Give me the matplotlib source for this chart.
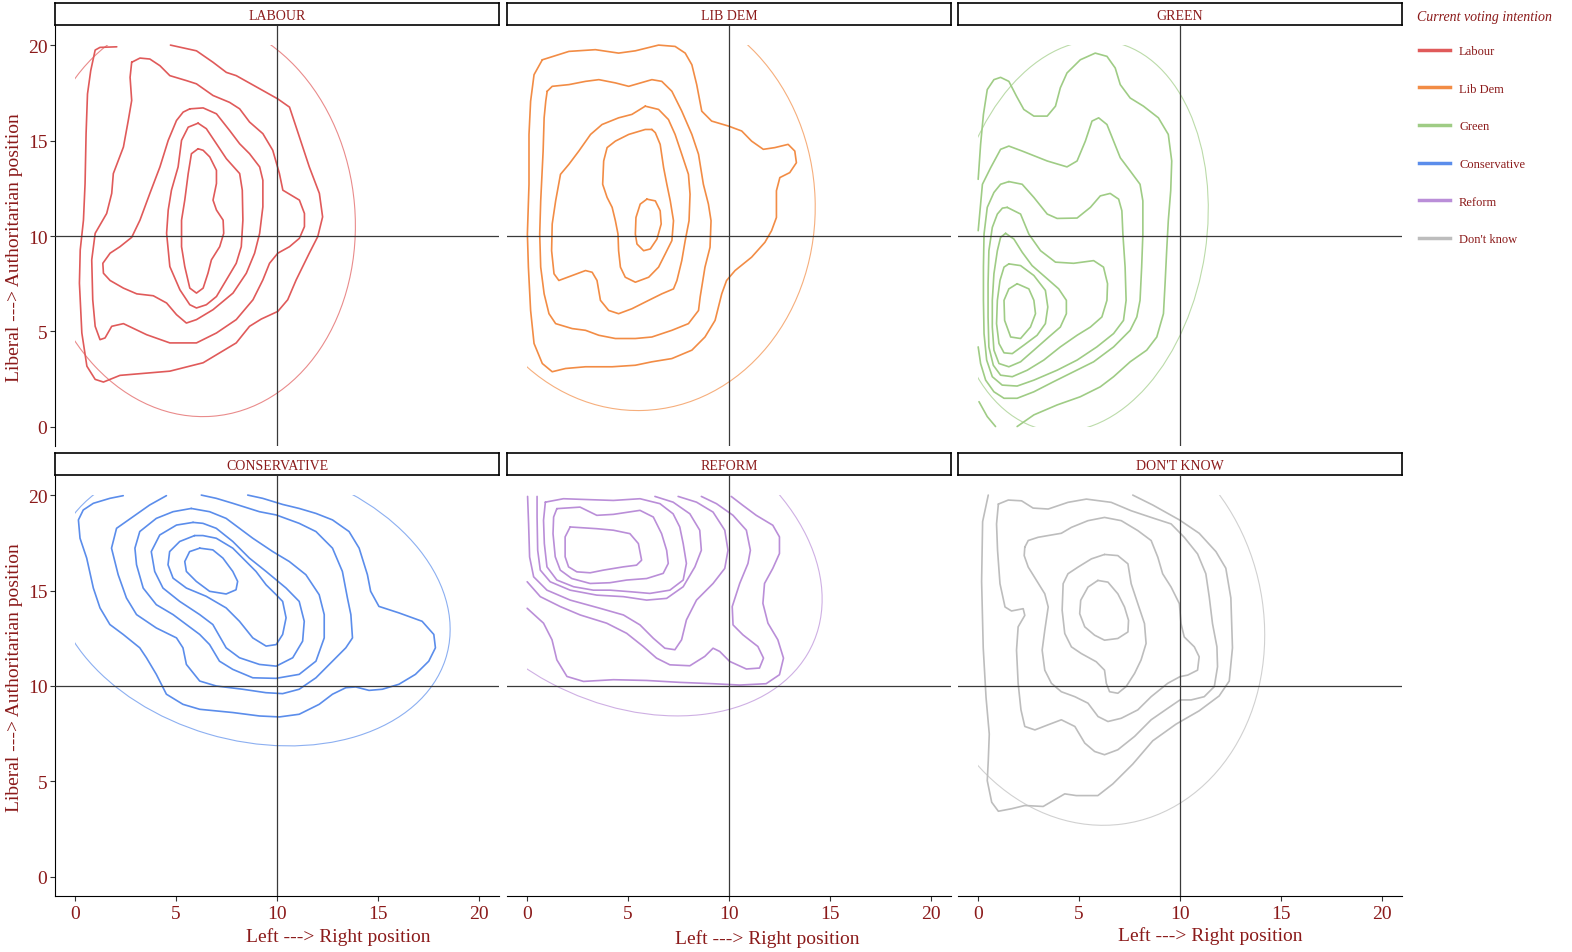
import numpy as np
import matplotlib
matplotlib.use("Agg")
import matplotlib.pyplot as plt
from matplotlib.lines import Line2D
from matplotlib.patches import Ellipse, Rectangle

plt.rcParams["font.family"] = ["Liberation Serif", "DejaVu Serif"]

TEXT_COLOR = "#8B1A1A"
PARTIES = ["Labour", "Lib Dem", "Green", "Conservative", "Reform", "Don't know"]
STRIP_TITLES = ["LABOUR", "LIB DEM", "GREEN", "CONSERVATIVE", "REFORM", "DON'T KNOW"]
PARTY_COLORS = ["#E05A5A", "#F28C45", "#9FCC85", "#5B8DEB", "#BA8ED8", "#BDBDBD"]
TICKS = [0, 5, 10, 15, 20]

# ---- density contours (x = left/right, y = lib/auth) ----
LAB_C1 = [(2.06, 19.91), (1.23, 19.88), (0.99, 19.74), (0.77, 18.66), (0.61, 17.44), (0.54, 15.36),
          (0.49, 12.75), (0.41, 10.83), (0.25, 9.27), (0.21, 7.53), (0.33, 4.92), (0.58, 3.18),
          (0.99, 2.49), (1.4, 2.35), (2.22, 2.7), (4.69, 2.92), (6.34, 3.36), (7.16, 3.88),
          (7.98, 4.4), (8.64, 5.27), (9.22, 5.65), (10.04, 6.05), (10.53, 6.66), (10.95, 7.7),
          (11.6, 9.1), (12.02, 9.97), (12.26, 11.0), (12.1, 12.23), (11.6, 13.62), (10.95, 15.7),
          (10.62, 16.75), (10.04, 17.18), (9.3, 17.62), (7.98, 18.4), (7.49, 18.57), (6.83, 19.1),
          (6.01, 19.7), (4.72, 20.0)]
LAB_C2 = [(2.8, 19.1), (2.72, 18.31), (2.8, 17.1), (2.63, 16.05), (2.39, 14.66), (1.89, 13.27),
          (1.81, 12.23), (1.56, 11.18), (0.99, 10.14), (0.82, 8.75), (0.87, 6.66), (0.99, 5.27),
          (1.23, 4.57), (1.48, 4.66), (1.81, 5.27), (2.39, 5.41), (3.54, 4.83), (4.69, 4.4),
          (6.01, 4.4), (7.0, 4.92), (7.98, 5.62), (8.81, 6.66), (9.3, 7.7), (9.63, 8.57),
          (10.04, 9.1), (10.62, 9.44), (11.11, 9.88), (11.36, 10.49), (11.36, 11.18), (11.11, 11.88),
          (10.29, 12.4), (10.12, 13.27), (9.79, 14.49), (9.3, 15.36), (8.64, 15.97), (8.15, 16.66),
          (7.65, 17.0), (6.83, 17.36), (6.01, 17.97), (5.51, 18.14), (4.69, 18.4), (4.2, 18.92),
          (3.7, 19.27), (3.21, 19.32)]
LAB_C3 = [(5.68, 16.66), (6.34, 16.71), (7.0, 16.4), (7.65, 15.53), (8.15, 14.83), (8.64, 14.31),
          (9.14, 13.62), (9.3, 12.92), (9.3, 11.53), (9.14, 10.14), (8.89, 9.1), (8.48, 8.05),
          (7.82, 7.01), (6.83, 6.14), (6.01, 5.62), (5.51, 5.44), (5.02, 5.88), (4.53, 6.49),
          (3.87, 6.87), (3.05, 6.97), (2.39, 7.27), (1.73, 7.67), (1.4, 8.05), (1.37, 8.57),
          (1.73, 9.1), (2.22, 9.44), (2.8, 9.93), (3.21, 10.83), (3.7, 12.23), (4.2, 13.62),
          (4.61, 15.01), (5.02, 16.05), (5.35, 16.49)]
LAB_C4 = [(6.09, 15.91), (6.5, 15.62), (7.0, 14.83), (7.49, 14.05), (8.15, 13.27), (8.28, 12.4),
          (8.31, 10.83), (8.23, 9.44), (7.98, 8.57), (7.49, 7.7), (7.0, 6.83), (6.5, 6.4),
          (6.01, 6.23), (5.68, 6.4), (5.19, 7.18), (4.69, 8.4), (4.53, 10.14), (4.61, 11.36),
          (4.77, 12.4), (5.1, 13.62), (5.27, 15.01), (5.6, 15.7)]
LAB_C5 = [(6.09, 14.57), (6.34, 14.49), (6.67, 14.14), (7.0, 13.44), (7.0, 12.75), (6.83, 11.88),
          (7.0, 11.36), (7.33, 10.83), (7.36, 10.14), (7.16, 9.44), (6.75, 8.75), (6.58, 8.05),
          (6.34, 7.27), (6.01, 7.01), (5.68, 7.27), (5.43, 8.4), (5.27, 9.44), (5.27, 10.83),
          (5.43, 11.88), (5.6, 13.27), (5.76, 14.31)]

LD_C1 = [(0.75, 19.23), (2.07, 19.67), (3.38, 19.76), (4.53, 19.58), (5.36, 19.7), (6.51, 20.0),
         (7.33, 19.93), (7.83, 19.58), (8.16, 18.97), (8.4, 17.93), (8.65, 16.54), (9.14, 16.02),
         (9.97, 15.76), (10.63, 15.5), (11.12, 14.97), (11.7, 14.54), (12.27, 14.63), (12.93, 14.8),
         (13.26, 14.45), (13.34, 13.84), (13.01, 13.32), (12.52, 13.06), (12.35, 12.37), (12.35, 10.97),
         (12.11, 10.28), (11.78, 9.67), (11.12, 8.89), (10.3, 8.19), (9.88, 7.67), (9.64, 6.97),
         (9.31, 5.58), (8.81, 4.71), (8.16, 4.02), (7.17, 3.58), (6.18, 3.41), (5.36, 3.23),
         (4.21, 3.15), (2.89, 3.15), (1.9, 3.06), (1.24, 2.89), (0.75, 3.32), (0.34, 4.37),
         (0.17, 6.1), (0.06, 8.37), (0.01, 10.1), (0.09, 12.71), (0.09, 15.32), (0.17, 17.06),
         (0.34, 18.45)]
LD_C2 = [(0.99, 17.58), (1.24, 17.84), (2.07, 17.93), (2.89, 18.1), (3.55, 18.19), (4.37, 18.02),
         (5.03, 17.84), (6.18, 18.19), (6.67, 18.1), (7.17, 17.58), (7.66, 16.54), (8.16, 15.32),
         (8.49, 14.28), (8.73, 12.71), (8.98, 11.67), (9.11, 10.8), (9.06, 9.41), (8.81, 8.37),
         (8.57, 6.8), (8.49, 6.1), (7.99, 5.41), (7.17, 5.06), (6.18, 4.71), (5.36, 4.63),
         (4.37, 4.63), (3.55, 4.8), (2.89, 5.06), (2.23, 5.15), (1.41, 5.41), (1.08, 5.93),
         (0.84, 6.97), (0.67, 8.37), (0.62, 10.1), (0.67, 11.84), (0.79, 14.45), (0.84, 16.19),
         (0.92, 17.06)]
LD_C3 = [(5.85, 16.8), (6.51, 16.63), (7.0, 16.1), (7.33, 15.32), (7.66, 14.28), (7.99, 13.23),
         (8.07, 12.19), (8.02, 10.8), (7.83, 9.76), (7.66, 8.71), (7.42, 7.67), (7.25, 7.23),
         (6.67, 6.97), (6.02, 6.63), (5.19, 6.19), (4.53, 5.93), (4.04, 6.1), (3.63, 6.63),
         (3.46, 7.67), (3.22, 8.1), (2.89, 8.19), (2.23, 7.93), (1.57, 7.67), (1.33, 8.02),
         (1.21, 9.23), (1.24, 10.63), (1.41, 11.84), (1.65, 13.23), (2.07, 13.76), (2.56, 14.45),
         (3.14, 15.32), (3.71, 15.84), (4.53, 16.19), (5.19, 16.37)]
LD_C4 = [(6.18, 15.58), (5.85, 15.58), (5.03, 15.32), (4.37, 14.97), (3.96, 14.63), (3.79, 13.93),
         (3.74, 12.71), (3.96, 12.02), (4.21, 11.5), (4.37, 10.8), (4.5, 10.1), (4.53, 9.23),
         (4.62, 8.37), (4.86, 7.84), (5.36, 7.58), (6.02, 7.84), (6.51, 8.37), (6.84, 9.06),
         (7.17, 9.76), (7.25, 10.8), (7.09, 11.84), (6.92, 12.71), (6.76, 13.58), (6.59, 14.8),
         (6.35, 15.41)]
LD_C5 = [(5.93, 11.93), (5.6, 11.67), (5.39, 10.97), (5.36, 10.1), (5.44, 9.58), (5.77, 9.23),
         (6.1, 9.32), (6.43, 9.84), (6.64, 10.63), (6.59, 11.32), (6.35, 11.84)]

GR_C1 = [(0.0, 12.97), (0.12, 14.8), (0.26, 16.37), (0.45, 17.67), (0.78, 18.19), (1.11, 18.31),
         (1.52, 18.1), (1.9, 17.32), (2.26, 16.63), (2.76, 16.28), (3.42, 16.28), (3.83, 16.8),
         (4.07, 17.76), (4.4, 18.54), (5.06, 19.23), (5.8, 19.58), (6.38, 19.41), (6.79, 18.8),
         (7.04, 17.93), (7.53, 17.23), (8.19, 16.8), (8.93, 16.19), (9.42, 15.32), (9.59, 13.93),
         (9.54, 12.37), (9.42, 10.8), (9.34, 9.23), (9.26, 7.5), (9.18, 5.93), (8.85, 4.71),
         (8.35, 4.02), (7.53, 3.41), (6.71, 2.63), (6.05, 2.1), (5.06, 1.58), (3.91, 1.15),
         (2.76, 0.63), (1.93, 0.02)]
GR_C1_CORNER = [(0.04, 1.32), (0.45, 0.54), (0.86, 0.02)]
GR_C2 = [(0.0, 10.28), (0.21, 12.71), (0.62, 13.58), (1.11, 14.54), (1.52, 14.71), (2.18, 14.45),
         (3.42, 13.93), (4.4, 13.62), (4.9, 13.93), (5.31, 14.97), (5.64, 16.02), (5.97, 16.19),
         (6.38, 15.84), (6.71, 14.97), (7.04, 14.1), (7.53, 13.41), (8.02, 12.71), (8.16, 11.84),
         (8.16, 10.1), (8.1, 8.37), (8.02, 6.63), (7.86, 5.76), (7.53, 5.06), (6.71, 4.19),
         (5.72, 3.41), (4.73, 2.89), (3.74, 2.37), (2.76, 1.84), (1.93, 1.5), (1.28, 1.5),
         (0.78, 1.84), (0.37, 2.45), (0.12, 3.32), (0.0, 4.19)]
GR_C3 = [(1.52, 12.85), (2.18, 12.71), (2.76, 12.02), (3.42, 11.15), (3.91, 10.92), (4.9, 10.94),
         (5.56, 11.5), (6.05, 12.1), (6.54, 12.23), (6.96, 11.93), (7.12, 11.32), (7.17, 10.1),
         (7.28, 8.37), (7.33, 6.63), (7.2, 5.58), (6.71, 4.89), (5.88, 4.19), (4.9, 3.5),
         (3.91, 2.97), (2.76, 2.45), (1.93, 2.14), (1.19, 2.19), (0.7, 2.63), (0.42, 3.5),
         (0.29, 4.89), (0.26, 6.63), (0.26, 8.37), (0.29, 10.1), (0.45, 11.5), (0.78, 12.28),
         (1.11, 12.71)]
GR_C4 = [(1.44, 11.5), (2.1, 11.15), (2.51, 10.1), (3.09, 9.23), (3.83, 8.63), (4.73, 8.57),
         (5.72, 8.71), (6.21, 8.37), (6.41, 7.5), (6.38, 6.63), (6.13, 5.76), (5.56, 5.23),
         (4.9, 4.8), (4.07, 4.19), (3.25, 3.5), (2.43, 2.97), (1.69, 2.63), (1.11, 2.71),
         (0.75, 3.23), (0.53, 4.19), (0.49, 5.76), (0.49, 7.5), (0.53, 9.23), (0.7, 10.45),
         (0.95, 11.15), (1.2, 11.46)]
GR_C5 = [(1.36, 10.14), (1.77, 9.84), (2.18, 9.15), (2.67, 8.45), (3.42, 7.76), (3.99, 7.23),
         (4.37, 6.63), (4.37, 5.93), (4.07, 5.23), (3.5, 4.71), (2.76, 4.02), (2.1, 3.41),
         (1.52, 3.15), (1.03, 3.32), (0.78, 4.02), (0.7, 5.23), (0.7, 6.63), (0.78, 8.02),
         (0.95, 9.23), (1.11, 9.93)]
GR_C6 = [(1.52, 8.54), (2.1, 8.45), (2.76, 7.93), (3.33, 7.15), (3.45, 6.28), (3.33, 5.41),
         (2.92, 4.8), (2.26, 4.28), (1.69, 3.84), (1.28, 3.88), (1.03, 4.37), (0.91, 5.41),
         (0.95, 6.63), (1.08, 7.67), (1.28, 8.37)]
GR_C7 = [(1.93, 7.5), (2.51, 7.23), (2.76, 6.63), (2.84, 5.93), (2.59, 5.23), (2.1, 4.63),
         (1.61, 4.71), (1.31, 5.58), (1.28, 6.63), (1.52, 7.23)]

CON_C1 = [(2.38, 19.97), (1.72, 19.83), (0.9, 19.57), (0.4, 19.22), (0.16, 18.7), (0.24, 17.74),
          (0.57, 16.7), (0.9, 15.13), (1.23, 14.09), (1.72, 13.22), (2.38, 12.7), (3.2, 12.0),
          (3.53, 11.48), (4.02, 10.61), (4.52, 9.57), (5.34, 9.04), (6.17, 8.78), (7.81, 8.61),
          (9.13, 8.43), (10.12, 8.38), (11.1, 8.52), (12.09, 9.04), (12.75, 9.57), (13.41, 9.91),
          (13.9, 9.95), (14.56, 9.77), (15.22, 9.83), (16.04, 10.09), (16.86, 10.61), (17.52, 11.3),
          (17.85, 12.0), (17.77, 12.7), (17.19, 13.39), (16.04, 13.83), (15.05, 14.17), (14.64, 14.96),
          (14.48, 15.83), (14.07, 17.22), (13.57, 18.09), (12.75, 18.7), (11.93, 19.04), (11.1, 19.3),
          (10.28, 19.51), (9.29, 19.83), (8.55, 20.0)]
CON_C2 = [(4.52, 19.97), (3.69, 19.48), (2.87, 18.87), (2.05, 18.26), (1.8, 17.22), (2.13, 15.83),
          (2.54, 14.61), (3.04, 13.74), (4.02, 13.04), (5.02, 12.52), (5.34, 12.0), (5.51, 11.13),
          (6.17, 10.26), (6.99, 10.0), (8.3, 9.83), (9.45, 9.65), (10.28, 9.6), (11.1, 9.83),
          (11.93, 10.43), (12.75, 11.3), (13.41, 12.0), (13.74, 12.52), (13.66, 13.74), (13.49, 14.61),
          (13.24, 16.0), (12.75, 17.22), (11.93, 18.09), (11.1, 18.52), (9.96, 18.96), (9.13, 19.13),
          (7.81, 19.57), (6.99, 19.83), (6.25, 20.0)]
CON_C3 = [(5.75, 19.3), (6.66, 19.13), (7.48, 18.78), (8.14, 18.26), (8.8, 17.74), (9.79, 17.04),
          (10.61, 16.52), (11.43, 15.83), (12.09, 14.78), (12.34, 13.74), (12.34, 12.52), (11.93, 11.3),
          (11.1, 10.61), (9.95, 10.4), (8.8, 10.43), (7.81, 10.87), (7.15, 11.3), (6.66, 12.17),
          (6.17, 12.7), (5.51, 13.22), (4.85, 13.74), (4.02, 14.26), (3.37, 15.13), (3.04, 16.35),
          (2.96, 17.22), (3.2, 18.09), (4.02, 18.78), (4.85, 19.13)]
CON_C4 = [(5.84, 18.57), (6.33, 18.52), (6.99, 18.26), (7.81, 17.57), (8.63, 16.7), (9.46, 16.0),
          (10.45, 15.13), (11.1, 14.43), (11.35, 13.39), (11.27, 12.35), (10.78, 11.48), (9.96, 11.04),
          (9.13, 11.13), (8.14, 11.48), (7.48, 12.0), (6.82, 13.22), (6.17, 13.74), (5.18, 14.43),
          (4.35, 15.13), (3.94, 16.0), (3.77, 17.04), (4.19, 17.91), (5.02, 18.43)]
CON_C5 = [(5.92, 17.88), (6.33, 17.88), (6.99, 17.74), (7.81, 17.22), (8.47, 16.52), (8.96, 16.0),
          (9.46, 15.3), (9.96, 14.78), (10.28, 14.43), (10.45, 13.57), (10.28, 12.7), (9.96, 12.17),
          (9.46, 12.09), (8.8, 12.52), (8.14, 13.39), (7.48, 14.09), (6.49, 14.7), (5.51, 15.13),
          (4.85, 15.65), (4.6, 16.35), (4.68, 17.04), (5.18, 17.57)]
CON_C6 = [(6.17, 17.22), (6.82, 17.13), (7.32, 16.7), (7.81, 16.0), (8.05, 15.48), (7.97, 15.04),
          (7.48, 14.82), (6.66, 14.96), (6.0, 15.48), (5.51, 16.0), (5.43, 16.52), (5.67, 17.04)]

REF_C1 = [(0.0, 14.07), (0.81, 13.29), (1.23, 12.42), (1.47, 11.37), (1.97, 10.5), (2.79, 10.24),
          (4.27, 10.33), (5.92, 10.29), (7.56, 10.19), (9.21, 10.12), (10.53, 10.05), (11.84, 10.12),
          (12.5, 10.59), (12.7, 11.46), (12.42, 12.42), (11.93, 13.29), (11.68, 14.33), (11.76, 15.37),
          (12.17, 16.16), (12.5, 16.94), (12.5, 17.81), (12.17, 18.42), (11.35, 18.94), (10.69, 19.46),
          (10.11, 19.93)]
REF_C2 = [(0.0, 15.46), (0.65, 14.68), (1.64, 14.16), (2.63, 13.72), (3.94, 13.29), (4.93, 12.76),
          (5.75, 12.07), (6.41, 11.46), (7.07, 11.11), (8.06, 11.06), (8.8, 11.55), (9.21, 11.98),
          (9.54, 11.81), (10.03, 11.29), (10.86, 10.89), (11.51, 10.94), (11.71, 11.46), (11.43, 12.07),
          (10.69, 12.68), (10.2, 13.2), (10.16, 14.16), (10.53, 15.37), (10.94, 16.42), (11.06, 17.11),
          (10.86, 18.16), (10.2, 18.94), (9.38, 19.55), (8.63, 19.93)]
REF_C3 = [(0.02, 19.93), (0.07, 18.5), (0.12, 16.76), (0.32, 15.72), (0.98, 15.02), (2.13, 14.5),
          (3.61, 14.07), (4.77, 13.72), (5.59, 13.2), (6.25, 12.5), (6.82, 11.98), (7.32, 11.9),
          (7.65, 12.42), (7.89, 13.46), (8.39, 14.5), (9.21, 15.37), (9.79, 16.16), (9.95, 17.11),
          (9.79, 18.16), (9.21, 19.11), (8.39, 19.63), (7.48, 19.93)]
REF_C4 = [(0.49, 19.93), (0.49, 18.85), (0.52, 17.11), (0.65, 16.07), (1.14, 15.46), (2.13, 15.02),
          (3.45, 14.76), (4.77, 14.68), (5.92, 14.5), (6.91, 14.59), (7.73, 15.2), (8.31, 16.24),
          (8.63, 17.11), (8.55, 18.16), (8.06, 19.02), (7.23, 19.63), (6.33, 19.93)]
REF_C5 = [(0.9, 19.63), (1.8, 19.81), (3.12, 19.76), (4.27, 19.72), (5.59, 19.81), (6.58, 19.55),
          (7.23, 19.02), (7.56, 18.33), (7.73, 17.46), (7.89, 16.42), (7.73, 15.55), (7.07, 15.02),
          (6.08, 14.85), (5.09, 14.94), (4.11, 15.02), (3.28, 15.02), (2.3, 15.2), (1.47, 15.55),
          (0.98, 16.24), (0.85, 17.46), (0.81, 18.68)]
REF_C6 = [(1.47, 19.29), (2.62, 19.37), (3.45, 18.94), (4.27, 18.99), (5.59, 19.2), (6.25, 18.85),
          (6.66, 17.98), (6.91, 17.11), (6.99, 16.42), (6.74, 15.9), (5.92, 15.63), (4.93, 15.55),
          (4.1, 15.41), (3.12, 15.37), (2.21, 15.63), (1.64, 16.07), (1.39, 16.77), (1.28, 17.98),
          (1.31, 18.85)]
REF_C7 = [(2.13, 18.33), (3.45, 18.24), (4.27, 18.16), (5.09, 17.98), (5.51, 17.46), (5.67, 16.59),
          (5.42, 16.33), (4.76, 16.24), (3.78, 16.07), (3.12, 15.93), (2.46, 15.98), (2.05, 16.24),
          (1.88, 16.77), (1.88, 17.81)]

DK_C1 = [(0.5, 20.0), (0.22, 18.61), (0.17, 15.48), (0.25, 12.0), (0.39, 9.39), (0.55, 7.48),
         (0.5, 6.09), (0.45, 5.04), (0.67, 3.91), (1.0, 3.44), (1.65, 3.57), (2.31, 3.74),
         (3.22, 3.69), (4.29, 4.35), (4.86, 4.26), (5.93, 4.26), (6.67, 4.87), (7.66, 5.91),
         (8.65, 7.13), (9.8, 8.0), (10.95, 8.7), (11.94, 9.48), (12.44, 10.26), (12.6, 12.0),
         (12.52, 14.61), (12.27, 16.17), (11.78, 17.04), (10.95, 18.0), (9.97, 18.7), (8.65, 19.48),
         (7.66, 20.0)]
DK_C2 = [(1.0, 19.53), (1.49, 19.74), (2.15, 19.7), (2.72, 19.32), (3.47, 19.27), (4.45, 19.62),
         (5.36, 19.79), (6.59, 19.62), (7.58, 19.18), (8.57, 18.83), (9.56, 18.49), (10.21, 17.79),
         (10.87, 16.92), (11.28, 15.88), (11.45, 14.66), (11.61, 13.27), (11.83, 12.05), (11.86, 11.01),
         (11.7, 9.97), (11.2, 9.44), (10.55, 9.27), (10.0, 9.27), (9.39, 8.83), (8.57, 8.23),
         (7.75, 7.36), (6.92, 6.66), (6.26, 6.4), (5.77, 6.57), (5.28, 7.01), (4.79, 7.88),
         (4.12, 8.23), (3.47, 7.97), (2.81, 7.7), (2.31, 7.88), (2.12, 8.75), (1.98, 10.14),
         (1.9, 11.88), (1.98, 13.1), (2.31, 13.7), (2.23, 14.05), (1.65, 13.93), (1.33, 14.14),
         (1.08, 15.36), (0.96, 17.1), (0.91, 18.49)]
DK_C3 = [(2.31, 17.27), (2.48, 17.62), (2.97, 17.79), (4.12, 18.0), (4.62, 18.31), (5.44, 18.66),
         (6.26, 18.83), (7.09, 18.66), (7.91, 18.14), (8.57, 17.62), (8.9, 16.75), (9.14, 15.88),
         (9.56, 15.18), (9.97, 14.31), (10.05, 13.27), (10.21, 12.57), (10.71, 12.05), (10.95, 11.53),
         (10.87, 10.83), (10.38, 10.57), (10.0, 10.49), (9.39, 10.14), (8.57, 9.44), (7.91, 8.75),
         (7.09, 8.31), (6.43, 8.14), (5.94, 8.4), (5.44, 9.1), (4.79, 9.44), (4.12, 9.7),
         (3.63, 10.14), (3.3, 10.83), (3.17, 11.88), (3.3, 12.92), (3.47, 14.14), (3.3, 14.83),
         (2.89, 15.53), (2.48, 16.23), (2.28, 16.83)]
DK_C4 = [(6.26, 16.89), (6.92, 16.83), (7.42, 16.4), (7.58, 15.36), (7.91, 14.31), (8.24, 13.27),
         (8.32, 12.23), (8.07, 11.36), (7.75, 10.66), (7.33, 9.97), (6.92, 9.62), (6.51, 9.7),
         (6.35, 10.14), (6.26, 10.83), (5.85, 11.27), (5.11, 11.7), (4.62, 12.05), (4.29, 12.75),
         (4.16, 13.97), (4.21, 15.36), (4.45, 15.88), (4.95, 16.23), (5.61, 16.66)]
DK_C5 = [(5.93, 15.53), (6.43, 15.44), (6.92, 14.83), (7.25, 14.14), (7.45, 13.44), (7.42, 12.83),
         (6.92, 12.49), (6.26, 12.4), (5.77, 12.66), (5.28, 13.1), (5.03, 13.79), (5.08, 14.49),
         (5.44, 15.18)]

# 95% ellipses (centre, width, height, angle in degrees), one per panel
ELL_CENTERS = [(5.96, 11.01), (5.37, 11.66), (5.0, 10.0), (8.73, 14.39), (4.84, 16.76), (5.65, 13.34)]
ELL_WIDTHS = [15.81, 17.80, 12.6, 14.46, 15.12, 17.00]
ELL_HEIGHTS = [20.97, 21.61, 20.6, 20.14, 20.76, 21.35]
ELL_ANGLES = [-175.4, -178.0, -8.0, 72.6, 60.6, -172.0]

PANEL_CONTOURS = [
    [(LAB_C1, False), (LAB_C2, True), (LAB_C3, True), (LAB_C4, True), (LAB_C5, True)],
    [(LD_C1, True), (LD_C2, True), (LD_C3, True), (LD_C4, True), (LD_C5, True)],
    [(GR_C1, False), (GR_C1_CORNER, False), (GR_C2, False), (GR_C3, True), (GR_C4, True),
     (GR_C5, True), (GR_C6, True), (GR_C7, True)],
    [(CON_C1, False), (CON_C2, False), (CON_C3, True), (CON_C4, True), (CON_C5, True), (CON_C6, True)],
    [(REF_C1, False), (REF_C2, False), (REF_C3, False), (REF_C4, False), (REF_C5, True),
     (REF_C6, True), (REF_C7, True)],
    [(DK_C1, False), (DK_C2, True), (DK_C3, True), (DK_C4, True), (DK_C5, True)],
]


def main():
    fig = plt.figure(figsize=(15.72, 9.53), dpi=100)
    W, H = 1572.0, 953.0
    col_left = [55, 507, 958]
    row_top = [27, 477]
    pw, ph = 444, 420

    for i in range(6):
        r, c = divmod(i, 3)
        ax = fig.add_axes([col_left[c] / W, 1 - (row_top[r] + ph) / H, pw / W, ph / H])
        color = PARTY_COLORS[i]
        for pts, closed in PANEL_CONTOURS[i]:
            arr = np.asarray(pts)
            if closed:
                arr = np.vstack([arr, arr[:1]])
            ax.plot(arr[:, 0], arr[:, 1], color=color, lw=1.2, solid_capstyle="round",
                    solid_joinstyle="round")

        # thin ellipse, only the part inside the 0..20 data range is shown
        ell = Ellipse(ELL_CENTERS[i], ELL_WIDTHS[i], ELL_HEIGHTS[i], angle=ELL_ANGLES[i],
                      fill=False, edgecolor=color, lw=0.8, alpha=0.7)
        ax.add_patch(ell)
        ell.set_clip_path(Rectangle((0, 0), 20, 20, transform=ax.transData))

        ax.axvline(10, color="#3a3a3a", lw=0.9, zorder=5)
        ax.axhline(10, color="#3a3a3a", lw=0.9, zorder=5)

        ax.set_xlim(-1, 21)
        ax.set_ylim(-1, 21)
        for s in ["top", "right"]:
            ax.spines[s].set_visible(False)
        ax.spines["left"].set_visible(c == 0)
        ax.spines["bottom"].set_visible(r == 1)
        ax.set_xticks(TICKS)
        ax.set_yticks(TICKS)
        ax.tick_params(colors="#333333", labelcolor=TEXT_COLOR, labelsize=14, length=3.5, width=0.8)
        ax.tick_params(axis="y", pad=2, left=(c == 0), labelleft=(c == 0))
        ax.tick_params(axis="x", pad=3, bottom=(r == 1), labelbottom=(r == 1))

        # facet strip
        sax = fig.add_axes([col_left[c] / W, 1 - (row_top[r] - 1) / H, pw / W, 22 / H])
        sax.set_xticks([])
        sax.set_yticks([])
        for s in sax.spines.values():
            s.set_linewidth(1.2)
        sax.text(0.5, 0.45, STRIP_TITLES[i], ha="center", va="center", fontsize=10,
                 color=TEXT_COLOR, transform=sax.transAxes)

    for xc, yc in [(338, 937), (767, 939), (1210, 936)]:
        fig.text(xc / W, 1 - yc / H, "Left ---> Right position", ha="center", va="center",
                 fontsize=14, color=TEXT_COLOR)
    for yc in [248, 678]:
        fig.text(15 / W, 1 - yc / H, "Liberal ---> Authoritarian position", ha="center",
                 va="center", rotation=90, fontsize=14, color=TEXT_COLOR)

    # legend: title as separate text so its gap to the keys matches
    fig.text(1417 / W, 1 - 17 / H, "Current voting intention", ha="left", va="center",
             fontsize=10, style="italic", color=TEXT_COLOR)
    handles = [Line2D([0], [0], color=col, lw=2.5) for col in PARTY_COLORS]
    leg = fig.legend(handles, PARTIES, loc="upper left", bbox_to_anchor=(1419 / W, 1 - 46 / H),
                     frameon=False, fontsize=9, labelspacing=2.05, handlelength=2.5,
                     handletextpad=0.7, borderpad=0.0, borderaxespad=0.0)
    for t in leg.get_texts():
        t.set_color(TEXT_COLOR)

    fig.savefig("out.png", dpi=100)
    plt.close(fig)


if __name__ == "__main__":
    main()
